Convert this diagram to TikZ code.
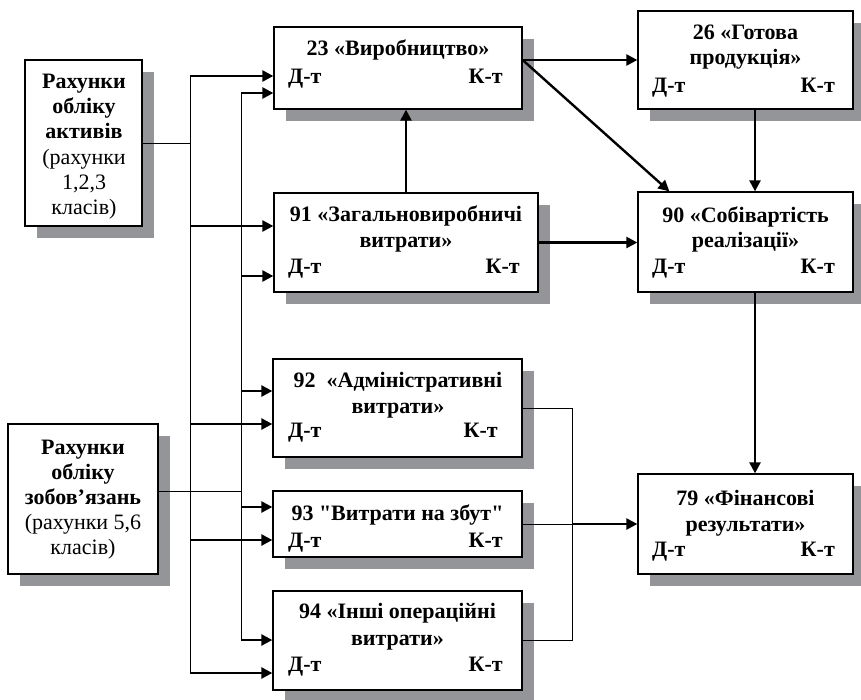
\documentclass[tikz,border=0pt]{standalone}
\usepackage{fontspec}
\setmainfont{Liberation Serif}
\usetikzlibrary{arrows.meta,shadows,calc}
\definecolor{shadowgray}{RGB}{148,149,153}
\begin{document}
\begin{tikzpicture}[x=1pt,y=-1pt,
  acct/.style={draw=black,line width=1.3pt,fill=white,inner sep=0pt,
    drop shadow={shadow xshift=11.5pt,shadow yshift=-11.5pt,fill=shadowgray,opacity=1}},
  ttl/.style={font=\fontsize{22}{26}\selectfont\bfseries,anchor=base,inner sep=0pt},
  txt/.style={font=\fontsize{22}{26}\selectfont,anchor=base,inner sep=0pt},
  dt/.style={ttl,anchor=base west},
  kt/.style={ttl,anchor=base east},
  feed/.style={line width=2.4pt,-{Triangle[length=11pt,width=11pt]}},
  bus/.style={line width=1pt},
]
\useasboundingbox (0,0) rectangle (861,699);

% account boxes
\node[acct,minimum width=117pt,minimum height=166pt] (A)   at (83.5,143) {};
\node[acct,minimum width=150pt,minimum height=150pt] (L)   at (83,499) {};
\node[acct,minimum width=248pt,minimum height=82pt]  (b23) at (398,68) {};
\node[acct,minimum width=215pt,minimum height=98pt]  (b26) at (745.5,60) {};
\node[acct,minimum width=264pt,minimum height=99pt]  (b91) at (406,242.5) {};
\node[acct,minimum width=215pt,minimum height=100pt] (b90) at (745.5,242) {};
\node[acct,minimum width=249pt,minimum height=98pt]  (b92) at (397.5,408) {};
\node[acct,minimum width=249pt,minimum height=66pt]  (b93) at (397.5,524) {};
\node[acct,minimum width=249pt,minimum height=99pt]  (b94) at (397.5,640.5) {};
\node[acct,minimum width=215pt,minimum height=100pt] (b79) at (745.5,524) {};

% texts of the left boxes
\node[ttl] (A1) at (84,88)  {Рахунки};
\node[ttl] (A2) at (84,113) {обліку};
\node[ttl] (A3) at (84,138) {активів};
\node[txt] (A4) at (84,164) {(рахунки};
\node[txt] (A5) at (84,189) {1,2,3};
\node[txt] (A6) at (84,214) {класів)};

\node[ttl] (L1) at (83,454) {Рахунки};
\node[ttl] (L2) at (83,479) {обліку};
\node[ttl] (L3) at (83,504) {зобов’язань};
\node[txt] (L4) at (83,529) {(рахунки 5,6};
\node[txt] (L5) at (83,554) {класів)};

% texts of the account boxes
\node[ttl] (t23) at (398,55) {23 «Виробництво»};
\node[dt] (d23) at (288,83) {Д-т};
\node[kt] (k23) at (503,83) {К-т};

\node[ttl] (t26a) at (745.5,39) {26 «Готова};
\node[ttl] (t26b) at (745.5,64) {продукція»};
\node[dt] (d26) at (652,92) {Д-т};
\node[kt] (k26) at (835,92) {К-т};

\node[ttl] (t91a) at (406,221) {91 «Загальновиробничі};
\node[ttl] (t91b) at (406,247) {витрати»};
\node[dt] (d91) at (288,273) {Д-т};
\node[kt] (k91) at (520,273) {К-т};

\node[ttl] (t90a) at (745.5,222) {90 «Собівартість};
\node[ttl] (t90b) at (745.5,247) {реалізації»};
\node[dt] (d90) at (652,273) {Д-т};
\node[kt] (k90) at (835,273) {К-т};

\node[ttl] (t92a) at (398,387) {92\ \ «Адміністративні};
\node[ttl] (t92b) at (398,413) {витрати»};
\node[dt] (d92) at (288,437) {Д-т};
\node[kt] (k92) at (498,437) {К-т};

\node[ttl] (t93) at (397.5,520) {93 \textquotedbl Витрати на збут\textquotedbl};
\node[dt] (d93) at (288,547) {Д-т};
\node[kt] (k93) at (503,547) {К-т};

\node[ttl] (t94a) at (397.5,618) {94 «Інші операційні};
\node[ttl] (t94b) at (397.5,645) {витрати»};
\node[dt] (d94) at (288,671) {Д-т};
\node[kt] (k94) at (503,671) {К-т};

\node[ttl] (t79a) at (745.5,505) {79 «Фінансові};
\node[ttl] (t79b) at (745.5,531) {результати»};
\node[dt] (d79) at (652,556) {Д-т};
\node[kt] (k79) at (835,556) {К-т};

% distribution buses
\coordinate (busA) at (190,143);
\coordinate (busL) at (241,491);

\coordinate (in23a) at ($(b23.west)+(0,8)$);
\coordinate (in23b) at ($(b23.west)+(0,25)$);
\coordinate (in91a) at ($(b91.west)+(0,-16.5)$);
\coordinate (in91b) at ($(b91.west)+(0,33.5)$);
\coordinate (in92b) at ($(b92.west)+(0,-17)$);
\coordinate (in92a) at ($(b92.west)+(0,16)$);
\coordinate (in93b) at ($(b93.west)+(0,-17)$);
\coordinate (in93a) at ($(b93.west)+(0,16)$);
\coordinate (in94b) at ($(b94.west)+(0,-0.5)$);
\coordinate (in94a) at ($(b94.west)+(0,32.5)$);
\coordinate (Lout) at ($(L.east)+(0,-8)$);

\draw[bus] (A.east) -- (busA);
\draw[bus] (Lout) -- (Lout -| busL);
\draw[bus] (in23a -| busA) -- (in94a -| busA);
\draw[bus] (in23b -| busL) -- (in94b -| busL);

\foreach \p in {in23a,in91a,in92a,in93a,in94a}
  \draw[feed] (\p -| busA) -- (\p);
\foreach \p in {in23b,in91b,in92b,in93b,in94b}
  \draw[feed] (\p -| busL) -- (\p);

% flows between accounts
\coordinate (out23) at ($(b23.east)+(0,-8)$);
\coordinate (in90d) at ($(b90.north west)+(32,0)$);
\coordinate (x26) at ($(b26.south)+(9.5,0)$);
\draw[feed] (out23) -- (out23 -| b26.west);
\draw[feed] (out23) -- (in90d);
\draw[feed] (x26) -- (x26 |- b90.north);
\draw[feed] (b91.north) -- (b91.north |- b23.south);
\draw[feed] (b91.east) -- (b91.east -| b90.west);
\draw[feed] (x26 |- b90.south) -- (x26 |- b79.north);

% collector of period expenses
\coordinate (col) at ($(b93.east)+(50,0)$);
\draw[bus] (b92.east) -- (b92.east -| col) -- (b94.east -| col) -- (b94.east);
\draw[bus] (b93.east) -- (col);
\draw[feed] (col) -- (b79.west);
\end{tikzpicture}
\end{document}
